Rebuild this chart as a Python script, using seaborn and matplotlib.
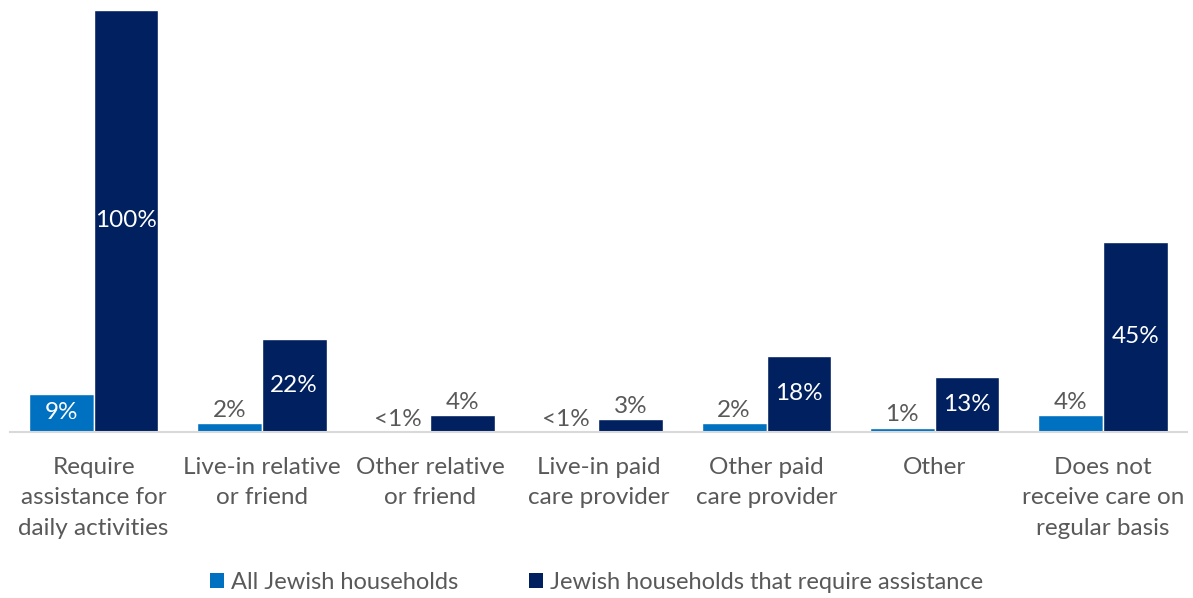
import matplotlib
matplotlib.use("Agg")
import matplotlib.pyplot as plt
from matplotlib.patches import Patch
import seaborn as sns
import pandas as pd

categories = [
    "Require\nassistance for\ndaily activities",
    "Live-in relative\nor friend",
    "Other relative\nor friend",
    "Live-in paid\ncare provider",
    "Other paid\ncare provider",
    "Other",
    "Does not\nreceive care on\nregular basis",
]
series_names = ["All Jewish households", "Jewish households that require assistance"]
all_households = [9, 2, 0, 0, 2, 1, 4]
all_labels = ["9%", "2%", "<1%", "<1%", "2%", "1%", "4%"]
require_assistance = [100, 22, 4, 3, 18, 13, 45]
require_labels = ["100%", "22%", "4%", "3%", "18%", "13%", "45%"]

colors = ["#0070c0", "#002060"]
text_gray = "#595959"

sns.set_theme(style="white")
plt.rcParams["font.family"] = ["Lato", "DejaVu Sans"]

df = pd.DataFrame({
    "category": categories * 2,
    "series": [series_names[0]] * len(categories) + [series_names[1]] * len(categories),
    "value": all_households + require_assistance,
})

fig = plt.figure(figsize=(11.93, 5.98), dpi=100)
ax = fig.add_axes([0.008, 0.278, 0.987, 0.705])
sns.barplot(data=df, x="category", y="value", hue="series", order=categories,
            hue_order=series_names, palette=colors, width=0.77, saturation=1,
            legend=False, ax=ax, errorbar=None)

ax.set_ylim(0, 100)
ax.set_xlim(-0.5, len(categories) - 0.5)
ax.set_xlabel("")
ax.set_ylabel("")
ax.set_yticks([])
for side in ["top", "right", "left"]:
    ax.spines[side].set_visible(False)
ax.spines["bottom"].set_color("#d9d9d9")
ax.spines["bottom"].set_linewidth(1.5)
ax.tick_params(axis="x", length=0, pad=18, labelsize=17.5, labelcolor=text_gray)
for lbl in ax.get_xticklabels():
    lbl.set_linespacing(1.56)

# value labels: inside bar in white when tall enough, otherwise above in gray
for container, labels in zip(ax.containers, [all_labels, require_labels]):
    for bar, text in zip(container, labels):
        h = bar.get_height()
        x = bar.get_x() + bar.get_width() / 2
        if h >= 8:
            ax.text(x, h / 2, text, ha="center", va="center", color="white", fontsize=17.5)
        else:
            ax.text(x, h + 0.5, text, ha="center", va="bottom", color=text_gray, fontsize=17.5)

handles = [Patch(facecolor=c, edgecolor="none") for c in colors]
fig.legend(handles, series_names, loc="center", bbox_to_anchor=(0.5, 0.026), ncol=2,
           frameon=False, fontsize=17, handlelength=0.6, handleheight=0.6,
           handletextpad=0.3, columnspacing=3.0, labelcolor=text_gray)

fig.savefig("out.png", dpi=100)
